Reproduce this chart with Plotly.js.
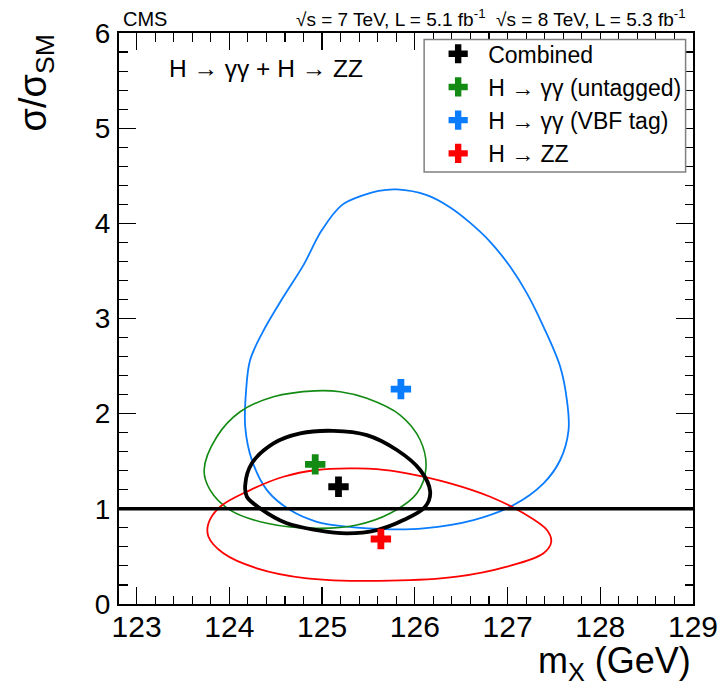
<!DOCTYPE html>
<html>
<head>
<meta charset="utf-8">
<script src="https://cdn.plot.ly/plotly-3.0.1.min.js"></script>
<style>html,body{margin:0;padding:0;background:#fff;}#chart{width:722px;height:686px;}</style>
</head>
<body>
<div id="chart"></div>
<script>
// ---- Data ----
const seriesNames = ["Combined", "H \u2192 \u03b3\u03b3 (untagged)", "H \u2192 \u03b3\u03b3 (VBF tag)", "H \u2192 ZZ"];
const seriesColors = ["#000000", "#138a13", "#0a7cff", "#ff0000"];

// best-fit points (mass in GeV, sigma/sigma_SM)
const bestMass  = [125.177, 124.926, 125.85, 125.634];
const bestRatio = [1.232, 1.467, 2.258, 0.683];

// 68% CL contours
const combinedX = [125.123,125.483,125.807,126.058,126.166,126.112,125.878,125.591,125.268,124.944,124.62,124.332,124.189,124.171,124.243,124.476,124.764,125.123];
const combinedY = [1.82,1.775,1.618,1.408,1.18,1.022,0.882,0.777,0.743,0.777,0.848,1.005,1.127,1.25,1.478,1.688,1.793,1.82];

const untaggedX = [124.926,125.195,125.483,125.842,126.058,126.12,126.023,125.735,125.375,124.944,124.405,124.009,123.793,123.728,123.865,124.116,124.476,124.926];
const untaggedY = [2.24,2.23,2.161,1.985,1.723,1.425,1.163,0.953,0.83,0.795,0.848,0.987,1.197,1.408,1.757,2.02,2.178,2.24];

const vbfX = [125.807,126.13,126.382,126.598,126.813,127.029,127.209,127.388,127.568,127.64,127.658,127.568,127.388,127.065,126.633,126.094,125.735,125.268,124.944,124.656,124.405,124.243,124.171,124.181,124.224,124.354,124.583,124.799,124.998,125.213,125.447,125.608,125.807];
const vbfY = [4.356,4.296,4.167,4.005,3.806,3.543,3.264,2.913,2.493,2.143,1.828,1.513,1.268,1.04,0.882,0.795,0.785,0.812,0.864,0.987,1.197,1.513,1.862,2.248,2.563,2.847,3.228,3.561,3.929,4.191,4.296,4.341,4.356];

const zzX = [125.3,125.591,125.915,126.382,126.813,127.173,127.425,127.471,127.388,126.994,126.454,125.735,124.836,124.297,123.936,123.775,123.775,123.901,124.224,124.583,124.944,125.3];
const zzY = [1.425,1.418,1.373,1.268,1.127,0.953,0.777,0.654,0.533,0.392,0.287,0.245,0.27,0.375,0.533,0.707,0.848,1.022,1.197,1.337,1.408,1.425];

const smRatio = 1;
const xTickVals = [123, 124, 125, 126, 127, 128, 129];
const yTickVals = [0, 1, 2, 3, 4, 5, 6];
const xRange = [122.81, 129];
const yRange = [0, 6];

// ---- Plot ----
const FONT = '"Liberation Sans", Arial, Helvetica, sans-serif';
const contours = [
  {x: vbfX, y: vbfY, c: seriesColors[2], w: 1.8},
  {x: untaggedX, y: untaggedY, c: seriesColors[1], w: 1.6},
  {x: zzX, y: zzY, c: seriesColors[3], w: 1.8},
  {x: combinedX, y: combinedY, c: seriesColors[0], w: 3.8}
];
const traces = [];
contours.forEach(function (ct) {
  traces.push({
    type: 'scatter', mode: 'lines', x: ct.x, y: ct.y,
    line: {color: ct.c, width: ct.w, shape: 'spline', smoothing: 1},
    showlegend: false, hoverinfo: 'skip'
  });
});
for (let i = 0; i < seriesNames.length; i++) {
  traces.push({
    type: 'scatter', mode: 'markers',
    x: [bestMass[i]], y: [bestRatio[i]],
    name: seriesNames[i], legendgroup: 'g' + i,
    marker: {symbol: 'cross', size: 17, color: seriesColors[i], line: {width: 0}}
  });
}
// empty trace so that the mirrored (top/right) tick axes are drawn
traces.push({type: 'scatter', mode: 'markers', x: [], y: [], xaxis: 'x2', yaxis: 'y2', showlegend: false, hoverinfo: 'skip'});

const tickCommon = {
  ticks: 'inside', ticklen: 17, tickwidth: 1.3, tickcolor: '#000',
  showgrid: false, zeroline: false, fixedrange: true
};
const minorX = {dtick: 0.2, tick0: 123, ticks: 'inside', ticklen: 8.5, tickwidth: 1.1, tickcolor: '#000', showgrid: false};
const minorY = {dtick: 0.2, tick0: 0, ticks: 'inside', ticklen: 8.5, tickwidth: 1.1, tickcolor: '#000', showgrid: false};

const layout = {
  width: 722, height: 686,
  margin: {l: 119, r: 29.3, t: 32.7, b: 82, pad: 0},
  paper_bgcolor: '#fff', plot_bgcolor: '#fff',
  font: {family: FONT, color: '#000'},
  showlegend: true,
  legend: {
    x: 0.5386, y: 1.0012, xanchor: 'left', yanchor: 'top',
    bgcolor: 'rgba(0,0,0,0)', borderwidth: 0,
    font: {family: FONT, size: 23, color: '#000'},
    tracegroupgap: 0.3, traceorder: 'grouped', itemwidth: 50
  },
  xaxis: Object.assign({}, tickCommon, {
    showline: true, linecolor: '#000', linewidth: 2, mirror: true,
    range: xRange, tickvals: xTickVals, ticktext: xTickVals.map(String),
    tickfont: {family: FONT, size: 30}, ticklabelstandoff: -5, minor: minorX
  }),
  yaxis: Object.assign({}, tickCommon, {
    showline: true, linecolor: '#000', linewidth: 2, mirror: true,
    range: yRange, tickvals: yTickVals, ticktext: yTickVals.map(String),
    tickfont: {family: FONT, size: 28}, ticklabelstandoff: 1, minor: minorY
  }),
  xaxis2: Object.assign({}, tickCommon, {
    overlaying: 'x', side: 'top', anchor: 'y2', range: xRange, tickvals: xTickVals,
    showticklabels: false, showline: false, minor: minorX
  }),
  yaxis2: Object.assign({}, tickCommon, {
    overlaying: 'y', side: 'right', anchor: 'x2', range: yRange, tickvals: yTickVals,
    showticklabels: false, showline: false, minor: minorY
  }),
  shapes: [
    {type: 'line', xref: 'paper', yref: 'y', x0: 0, x1: 1, y0: smRatio, y1: smRatio,
     line: {color: '#000', width: 3.5}, layer: 'above'},
    // legend frame
    {type: 'rect', xref: 'paper', yref: 'paper', x0: 0.5316, x1: 0.9871, y0: 0.7567, y1: 0.9884,
     fillcolor: '#fff', line: {color: '#808080', width: 1.5}, layer: 'above'}
  ],
  annotations: [
    {xref: 'paper', yref: 'paper', x: 0.003, y: 1.0252, xanchor: 'left', yanchor: 'middle',
     text: 'CMS', showarrow: false, font: {family: FONT, size: 20}},
    {xref: 'paper', yref: 'paper', x: 0.9918, y: 1.0262, xanchor: 'right', yanchor: 'middle',
     text: '\u221As = 7 TeV, L = 5.1 fb<sup>-1</sup>\u00a0\u00a0\u221As = 8 TeV, L = 5.3 fb<sup>-1</sup>',
     showarrow: false, font: {family: FONT, size: 19}},
    {xref: 'paper', yref: 'paper', x: 0.0837, y: 0.9382, xanchor: 'left', yanchor: 'middle',
     text: 'H \u2192 \u03b3\u03b3 + H \u2192 ZZ', showarrow: false, font: {family: FONT, size: 24.5}},
    {xref: 'paper', yref: 'paper', x: 1, y: -0.1033, xanchor: 'right', yanchor: 'middle',
     text: 'm<sub>X</sub> (GeV)', showarrow: false, font: {family: FONT, size: 36}},
    {xref: 'paper', yref: 'paper', x: -0.1447, y: 1.0017, xanchor: 'center', yanchor: 'top',
     text: '\u03c3/\u03c3<sub>SM</sub>', textangle: -90, showarrow: false, font: {family: FONT, size: 38}}
  ]
};

Plotly.newPlot('chart', traces, layout, {displayModeBar: false, staticPlot: true});
</script>
</body>
</html>
